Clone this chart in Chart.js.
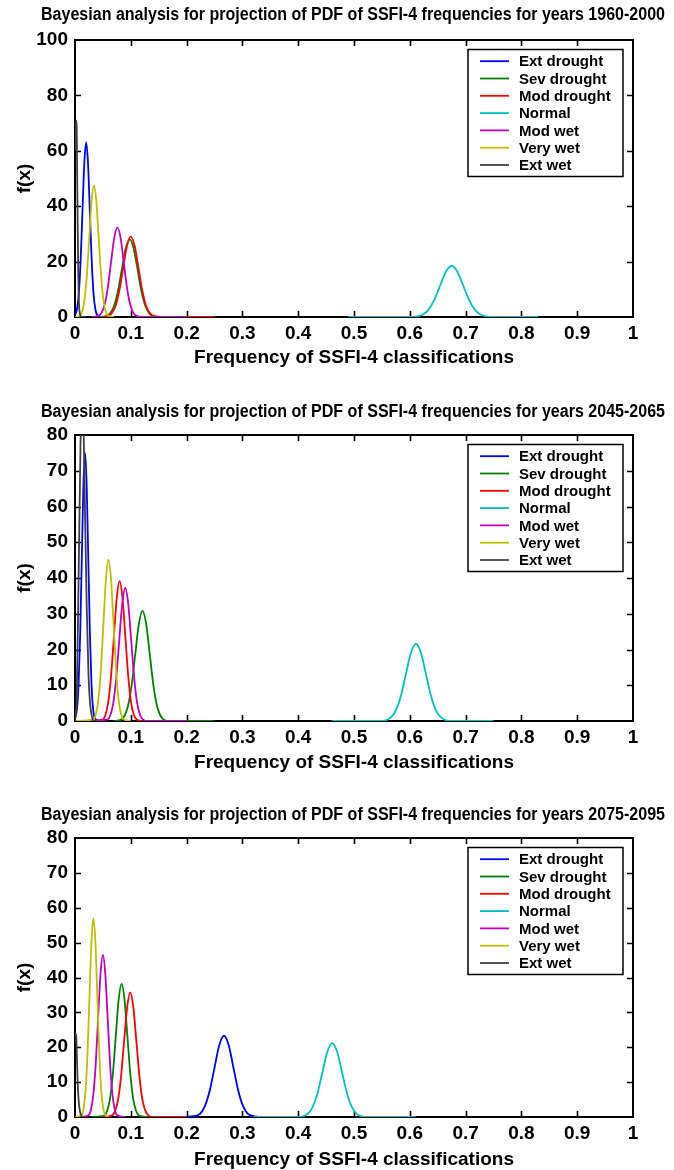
<!DOCTYPE html>
<html>
<head>
<meta charset="utf-8">
<script src="https://cdn.jsdelivr.net/npm/chart.js@4.4.1/dist/chart.umd.min.js"></script>
<style>
  body { margin: 0; background: #fff; width: 674px; height: 1170px; position: relative; overflow: hidden; }
  canvas { position: absolute; left: 0; }
</style>
</head>
<body>
<canvas id="c1" width="674" height="395" style="top:0px"></canvas>
<canvas id="c2" width="674" height="400" style="top:395px"></canvas>
<canvas id="c3" width="674" height="375" style="top:795px"></canvas>
<script>
// series names, matlab default colour order
const classes = ['Ext drought', 'Sev drought', 'Mod drought', 'Normal', 'Mod wet', 'Very wet', 'Ext wet']
const colours = ['#0000ff', '#008000', '#ff0000', '#00bfbf', '#bf00bf', '#bfbf00', '#404040']
const periods = ['1960-2000', '2045-2065', '2075-2095']
const yMax = [100, 80, 80]
const yStep = [20, 10, 10]

// ---- 1960-2000 ----
const extDrought1X = [0, 0.0035, 0.0068, 0.0101, 0.0134, 0.0167, 0.020, 0.0233, 0.0266, 0.0299, 0.0332, 0.0365, 0.0398, 0.046]
const extDrought1Y = [0.6, 2.8, 8.5, 20.5, 38.2, 55.6, 63, 55.6, 38.2, 20.5, 8.5, 2.8, 0.7, 0]
const sevDrought1X = [0.04, 0.0554, 0.0625, 0.0696, 0.0767, 0.0838, 0.0909, 0.098, 0.1051, 0.1122, 0.1193, 0.1264, 0.1335, 0.1406, 0.15]
const sevDrought1Y = [0, 0.3, 1.2, 3.8, 9.1, 17.0, 24.7, 28, 24.7, 17.0, 9.1, 3.8, 1.2, 0.3, 0]
const modDrought1X = [0.05, 0.0586, 0.0655, 0.0724, 0.0793, 0.0862, 0.0931, 0.100, 0.1069, 0.1138, 0.1207, 0.1276, 0.1345, 0.1414, 0.16, 0.25]
const modDrought1Y = [0, 0.3, 1.3, 3.9, 9.4, 17.6, 25.6, 29, 25.6, 17.6, 9.4, 3.9, 1.3, 0.3, 0, 0]
const normal1X = [0.49, 0.6, 0.612, 0.6225, 0.633, 0.6435, 0.654, 0.6645, 0.675, 0.6855, 0.696, 0.7065, 0.717, 0.7275, 0.738, 0.75, 0.83]
const normal1Y = [0, 0, 0.2, 0.8, 2.5, 6.0, 11.2, 16.3, 18.5, 16.3, 11.2, 6.0, 2.5, 0.8, 0.2, 0, 0]
const modWet1X = [0.03, 0.0415, 0.04725, 0.053, 0.05875, 0.0645, 0.07025, 0.076, 0.08175, 0.0875, 0.09325, 0.099, 0.10475, 0.1105, 0.12, 0.2]
const modWet1Y = [0, 0.4, 1.4, 4.4, 10.5, 19.6, 28.5, 32.3, 28.5, 19.6, 10.5, 4.4, 1.4, 0.4, 0, 0]
const veryWet1X = [0, 0.0088, 0.013, 0.0172, 0.0214, 0.0256, 0.0298, 0.034, 0.0382, 0.0424, 0.0466, 0.0508, 0.055, 0.0592, 0.07]
const veryWet1Y = [0, 0.5, 2.1, 6.4, 15.4, 28.8, 41.9, 47.5, 41.9, 28.8, 15.4, 6.4, 2.1, 0.5, 0]
const extWet1X = [0, 0.001, 0.002, 0.003, 0.004, 0.005, 0.006, 0.008, 0.012, 0.02]
const extWet1Y = [60, 68, 71, 69, 50, 30, 14, 2, 0, 0]

// ---- 2045-2065 ----
const extDrought2X = [0, 0.0035, 0.0064, 0.0093, 0.0122, 0.0151, 0.018, 0.0209, 0.0238, 0.0267, 0.0296, 0.0325, 0.0354, 0.045]
const extDrought2Y = [0.8, 3.3, 10.2, 24.4, 45.5, 66.2, 75, 66.2, 45.5, 24.4, 10.2, 3.3, 0.8, 0]
const sevDrought2X = [0.07, 0.082, 0.0885, 0.095, 0.1015, 0.108, 0.1145, 0.121, 0.1275, 0.134, 0.1405, 0.147, 0.1535, 0.160, 0.17, 0.25]
const sevDrought2Y = [0, 0.3, 1.4, 4.2, 10.0, 18.7, 27.2, 30.8, 27.2, 18.7, 10.0, 4.2, 1.4, 0.3, 0, 0]
const modDrought2X = [0.03, 0.0494, 0.0545, 0.0596, 0.0647, 0.0698, 0.0749, 0.080, 0.0851, 0.0902, 0.0953, 0.1004, 0.1055, 0.1106, 0.12]
const modDrought2Y = [0, 0.4, 1.7, 5.3, 12.7, 23.7, 34.5, 39.1, 34.5, 23.7, 12.7, 5.3, 1.7, 0.4, 0]
const normal2X = [0.46, 0.55, 0.557, 0.566, 0.575, 0.584, 0.593, 0.602, 0.611, 0.620, 0.629, 0.638, 0.647, 0.656, 0.665, 0.675, 0.75]
const normal2Y = [0, 0, 0.2, 1.0, 2.9, 7.0, 13.1, 19.1, 21.6, 19.1, 13.1, 7.0, 2.9, 1.0, 0.2, 0, 0]
const modWet2X = [0.005, 0.0579, 0.06325, 0.0686, 0.07395, 0.0793, 0.08465, 0.090, 0.09535, 0.1007, 0.10605, 0.1114, 0.11675, 0.1221, 0.13, 0.2]
const modWet2Y = [0, 0.4, 1.6, 5.0, 12.1, 22.6, 32.8, 37.2, 32.8, 22.6, 12.1, 5.0, 1.6, 0.4, 0, 0]
const veryWet2X = [0, 0.033, 0.0375, 0.042, 0.0465, 0.051, 0.0555, 0.060, 0.0645, 0.069, 0.0735, 0.078, 0.0825, 0.087, 0.1]
const veryWet2Y = [0, 0.5, 2.0, 6.1, 14.6, 27.4, 39.8, 45.1, 39.8, 27.4, 14.6, 6.1, 2.0, 0.5, 0]
const extWet2X = [0, 0.003, 0.006, 0.009, 0.012, 0.015, 0.018, 0.021, 0.024, 0.027, 0.030, 0.034, 0.04]
const extWet2Y = [0, 6, 35, 68, 92, 85, 58, 32, 14, 5, 1.5, 0, 0]

// ---- 2075-2095 ----
const extDrought3X = [0.19, 0.216, 0.2245, 0.233, 0.2415, 0.25, 0.2585, 0.267, 0.2755, 0.284, 0.2925, 0.301, 0.3095, 0.318, 0.33]
const extDrought3Y = [0, 0.3, 1.0, 3.2, 7.6, 14.1, 20.6, 23.3, 20.6, 14.1, 7.6, 3.2, 1.0, 0.3, 0]
const sevDrought3X = [0.03, 0.0523, 0.0575, 0.0627, 0.0679, 0.0731, 0.0783, 0.0835, 0.0887, 0.0939, 0.0991, 0.1043, 0.1095, 0.1147, 0.13]
const sevDrought3Y = [0, 0.4, 1.7, 5.2, 12.4, 23.2, 33.7, 38.2, 33.7, 23.2, 12.4, 5.2, 1.7, 0.4, 0]
const modDrought3X = [0.05, 0.066, 0.0715, 0.077, 0.0825, 0.088, 0.0935, 0.099, 0.1045, 0.110, 0.1155, 0.121, 0.1265, 0.132, 0.14, 0.2]
const modDrought3Y = [0, 0.4, 1.6, 4.8, 11.6, 21.7, 31.5, 35.7, 31.5, 21.7, 11.6, 4.8, 1.6, 0.4, 0, 0]
const normal3X = [0.32, 0.4, 0.4085, 0.41725, 0.426, 0.43475, 0.4435, 0.45225, 0.461, 0.46975, 0.4785, 0.48725, 0.496, 0.50475, 0.5135, 0.525, 0.61]
const normal3Y = [0, 0, 0.2, 0.9, 2.9, 6.9, 12.9, 18.7, 21.2, 18.7, 12.9, 6.9, 2.9, 0.9, 0.2, 0, 0]
const modWet3X = [0.01, 0.0242, 0.0285, 0.0328, 0.0371, 0.0414, 0.0457, 0.050, 0.0543, 0.0586, 0.0629, 0.0672, 0.0715, 0.0758, 0.09]
const modWet3Y = [0, 0.5, 2.0, 6.3, 15.1, 28.2, 41.0, 46.5, 41.0, 28.2, 15.1, 6.3, 2.0, 0.5, 0]
const veryWet3X = [0, 0.012, 0.0155, 0.019, 0.0225, 0.026, 0.0295, 0.033, 0.0365, 0.040, 0.0435, 0.047, 0.0505, 0.054, 0.06]
const veryWet3Y = [0, 0.6, 2.5, 7.7, 18.5, 34.6, 50.3, 57, 50.3, 34.6, 18.5, 7.7, 2.5, 0.6, 0]
const extWet3X = [0, 0.002, 0.003, 0.004, 0.006, 0.008, 0.011, 0.015]
const extWet3Y = [24, 23.5, 20, 14, 6, 2.5, 0.5, 0]

const curves = [
    [[extDrought1X, extDrought1Y], [sevDrought1X, sevDrought1Y], [modDrought1X, modDrought1Y], [normal1X, normal1Y], [modWet1X, modWet1Y], [veryWet1X, veryWet1Y], [extWet1X, extWet1Y]],
    [[extDrought2X, extDrought2Y], [sevDrought2X, sevDrought2Y], [modDrought2X, modDrought2Y], [normal2X, normal2Y], [modWet2X, modWet2Y], [veryWet2X, veryWet2Y], [extWet2X, extWet2Y]],
    [[extDrought3X, extDrought3Y], [sevDrought3X, sevDrought3Y], [modDrought3X, modDrought3Y], [normal3X, normal3Y], [modWet3X, modWet3Y], [veryWet3X, veryWet3Y], [extWet3X, extWet3Y]]
]

// where each panel sits inside its canvas
const geom = [
    { h: 395, titleY: 15, plotTop: 40, plotBottom: 317, xTitleY: 358 },
    { h: 400, titleY: 17, plotTop: 40, plotBottom: 326, xTitleY: 368 },
    { h: 375, titleY: 20, plotTop: 43, plotBottom: 322, xTitleY: 365 }
]

const FONT = '"Liberation Sans", Arial, Helvetica, sans-serif'

const framePlugin = {
    id: 'frame',
    // box + inward ticks go under the curves, like matlab
    beforeDatasetsDraw(chart) {
        const ctx = chart.ctx
        const a = chart.chartArea
        const sx = chart.scales.x
        const sy = chart.scales.y
        ctx.save()
        ctx.strokeStyle = '#000'
        ctx.lineWidth = 1.6
        ctx.beginPath()
        sx.ticks.forEach(t => {
            const px = Math.round(sx.getPixelForValue(t.value)) + 0.5
            if (px <= a.left + 1 || px >= a.right - 1) return
            ctx.moveTo(px, a.bottom); ctx.lineTo(px, a.bottom - 6)
            ctx.moveTo(px, a.top); ctx.lineTo(px, a.top + 6)
        })
        sy.ticks.forEach(t => {
            const py = Math.round(sy.getPixelForValue(t.value)) + 0.5
            if (py <= a.top + 1 || py >= a.bottom - 1) return
            ctx.moveTo(a.left, py); ctx.lineTo(a.left + 6, py)
            ctx.moveTo(a.right, py); ctx.lineTo(a.right - 6, py)
        })
        ctx.stroke()
        ctx.lineWidth = 2
        ctx.strokeRect(a.left, a.top, a.right - a.left, a.bottom - a.top)
        ctx.restore()
    },
    afterDatasetsDraw(chart) {
        const ctx = chart.ctx
        const a = chart.chartArea
        ctx.save()
        const bw = 155, bh = 127
        const bx = a.right - 10 - bw
        const by = a.top + 9.5
        ctx.fillStyle = '#fff'
        ctx.fillRect(bx, by, bw, bh)
        ctx.strokeStyle = '#000'
        ctx.lineWidth = 1.5
        ctx.strokeRect(bx, by, bw, bh)
        ctx.font = 'bold 15px ' + FONT
        ctx.textBaseline = 'middle'
        ctx.textAlign = 'left'
        chart.data.datasets.forEach((ds, i) => {
            const ry = by + 11.7 + i * 17.3
            ctx.strokeStyle = ds.borderColor
            ctx.lineWidth = 1.8
            ctx.beginPath()
            ctx.moveTo(bx + 12, ry); ctx.lineTo(bx + 41, ry)
            ctx.stroke()
            ctx.fillStyle = '#000'
            ctx.fillText(ds.label, bx + 51, ry + 1)
        })
        ctx.restore()
    },
    afterDraw(chart, args, opts) {
        const ctx = chart.ctx
        ctx.save()
        ctx.font = 'bold 18px ' + FONT
        ctx.fillStyle = '#000'
        ctx.textAlign = 'center'
        ctx.textBaseline = 'middle'
        const w = ctx.measureText(opts.title).width
        ctx.translate(353, opts.titleY)
        ctx.scale(624 / w, 1)
        ctx.fillText(opts.title, 0, 0)
        ctx.restore()
    }
}

function makeChart(k) {
    const g = geom[k]
    const xAxisH = g.xTitleY - g.plotBottom + 13.4
    const datasets = curves[k].map((c, i) => ({
        label: classes[i],
        data: c[0].map((x, j) => ({ x: x, y: c[1][j] })),
        borderColor: colours[i],
        backgroundColor: colours[i],
        borderWidth: 1.8,
        pointRadius: 0,
        fill: false,
        cubicInterpolationMode: 'monotone',
        order: 6 - i
    }))
    new Chart(document.getElementById('c' + (k + 1)), {
        type: 'line',
        data: { datasets: datasets },
        options: {
            responsive: false,
            animation: false,
            devicePixelRatio: 1,
            layout: {
                padding: { top: g.plotTop, right: 41, left: 0, bottom: g.h - g.plotBottom - xAxisH }
            },
            plugins: {
                legend: { display: false },
                tooltip: { enabled: false },
                frame: { title: 'Bayesian analysis for projection of PDF of SSFI-4 frequencies for years ' + periods[k], titleY: g.titleY }
            },
            scales: {
                x: {
                    type: 'linear',
                    min: 0,
                    max: 1,
                    grid: { display: false, drawTicks: false },
                    border: { display: false },
                    ticks: {
                        stepSize: 0.1,
                        padding: 5,
                        color: '#000',
                        font: { family: FONT, size: 19, weight: 'bold' },
                        maxRotation: 0,
                        callback: v => String(+v.toFixed(1))
                    },
                    title: {
                        display: true,
                        text: 'Frequency of SSFI-4 classifications',
                        color: '#000',
                        font: { family: FONT, size: 19, weight: 'bold' },
                        padding: { top: 0, bottom: 2 }
                    },
                    afterFit: s => { s.height = xAxisH }
                },
                y: {
                    min: 0,
                    max: yMax[k],
                    grid: { display: false, drawTicks: false },
                    border: { display: false },
                    ticks: {
                        stepSize: yStep[k],
                        padding: 7,
                        color: '#000',
                        font: { family: FONT, size: 19, weight: 'bold' }
                    },
                    title: {
                        display: true,
                        text: 'f(x)',
                        color: '#000',
                        font: { family: FONT, size: 19, weight: 'bold' },
                        padding: { top: 13.6, bottom: 0 }
                    },
                    afterFit: s => { s.width = 75 }
                }
            }
        },
        plugins: [framePlugin]
    })
}

for (let k = 0; k < 3; k++) {
    makeChart(k)
}
</script>
</body>
</html>
